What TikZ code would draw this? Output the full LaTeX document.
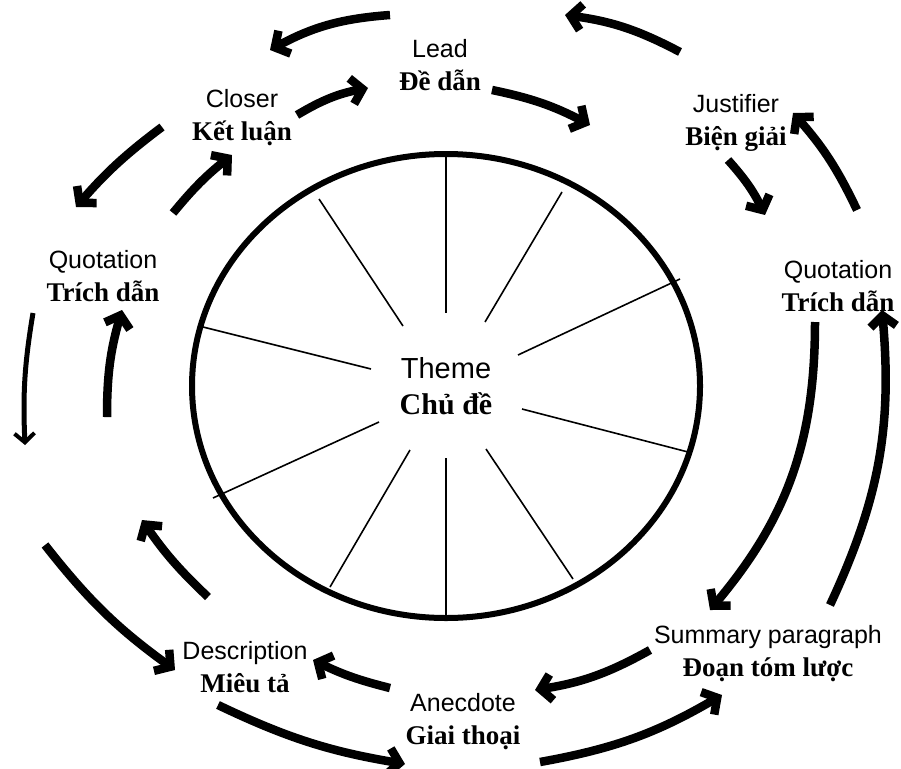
\documentclass[tikz,border=0pt]{standalone}
\usepackage{fontspec}
\setmainfont{Liberation Serif}
\newfontfamily\engfont{Liberation Sans}
\usetikzlibrary{arrows.meta}
\begin{document}
\begin{tikzpicture}[x=1pt,y=-1pt,
  flow/.style={line width=8.5pt,-{Straight Barb[length=11pt,width=26pt]}},
  thinflow/.style={line width=5pt,-{Straight Barb[length=9pt,width=20pt,line width=4pt]}},
  spoke/.style={line width=1.6pt},
  label/.style={align=center,font=\fontsize{27}{33}\selectfont},
]
\useasboundingbox (0,0) rectangle (901,768);

% central wheel
\draw[line width=6pt] (446,386) ellipse [x radius=254, y radius=232];
\draw[spoke] (446,155) -- (446,313);
\draw[spoke] (562,192) -- (485,322);
\draw[spoke] (680,279) -- (518,355);
\draw[spoke] (688,452) -- (522,409);
\draw[spoke] (573,579) -- (486,449);
\draw[spoke] (446,617) -- (446,458);
\draw[spoke] (330,587) -- (410,450);
\draw[spoke] (213,498) -- (379,422);
\draw[spoke] (203,327) -- (371,369);
\draw[spoke] (319,199) -- (403,326);

% labels: English in sans, Vietnamese in bold serif
\node[align=center,font=\fontsize{30}{36}\selectfont] (theme) at (446,386)
  {{\engfont\fontsize{29}{36}\selectfont Theme}\\\textbf{Chủ đề}};
\node[label] (lead) at (440,65) {{\engfont\fontsize{25}{33}\selectfont Lead}\\\textbf{Đề dẫn}};
\node[label] (closer) at (242,118) {{\engfont\fontsize{25}{33}\selectfont Closer}\\\textbf{Kết luận}};
\node[label] (justifier) at (736,123) {{\engfont\fontsize{25}{33}\selectfont Justifier}\\\textbf{Biện giải}};
\node[label] (quoteL) at (103,276) {{\engfont\fontsize{25}{33}\selectfont Quotation}\\\textbf{Trích dẫn}};
\node[label] (quoteR) at (838,286) {{\engfont\fontsize{25}{33}\selectfont Quotation}\\\textbf{Trích dẫn}};
\node[label] (desc) at (245,667) {{\engfont\fontsize{25}{33}\selectfont Description}\\\textbf{Miêu tả}};
\node[label] (anec) at (463,722) {{\engfont\fontsize{25}{33}\selectfont Anecdote}\\\textbf{Giai thoại}};
\node[label] (summ) at (768,654) {{\engfont\fontsize{25}{33}\selectfont Summary paragraph}\\\textbf{Đoạn tóm lược}};

% arrow end points, outer ring
\coordinate (a1s) at (390,15);  \coordinate (a1e) at (270,50);
\coordinate (a2s) at (162,127); \coordinate (a2e) at (76,207);
\coordinate (a3s) at (33,313);  \coordinate (a3e) at (25,445);
\coordinate (a4s) at (45,545);  \coordinate (a4e) at (175,670);
\coordinate (a5s) at (218,705); \coordinate (a5e) at (405,764);
\coordinate (a6s) at (540,762); \coordinate (a6e) at (722,695);
\coordinate (a7s) at (830,605); \coordinate (a7e) at (882,310);
\coordinate (a8s) at (857,210); \coordinate (a8e) at (793,113);
\coordinate (a9s) at (680,52);  \coordinate (a9e) at (565,15);
% arrow end points, inner ring
\coordinate (b1s) at (297,115); \coordinate (b1e) at (368,88);
\coordinate (b2s) at (492,90);  \coordinate (b2e) at (590,125);
\coordinate (b3s) at (728,160); \coordinate (b3e) at (765,215);
\coordinate (b4s) at (815,322); \coordinate (b4e) at (710,610);
\coordinate (b5s) at (650,650); \coordinate (b5e) at (535,690);
\coordinate (b6s) at (390,688); \coordinate (b6e) at (313,660);
\coordinate (b7s) at (208,597); \coordinate (b7e) at (142,520);
\coordinate (b8s) at (107,417); \coordinate (b8e) at (122,310);
\coordinate (b9s) at (173,213); \coordinate (b9e) at (232,155);

% outer ring, running anticlockwise
\draw[flow] (a1s) to[bend right=12] (a1e);
\draw[flow] (a2s) to[bend right=6] (a2e);
\draw[thinflow] (a3s) to[bend right=6] (a3e);
\draw[flow] (a4s) to[bend right=8] (a4e);
\draw[flow] (a5s) to[bend right=8] (a5e);
\draw[flow] (a6s) to[bend right=10] (a6e);
\draw[flow] (a7s) to[bend right=15] (a7e);
\draw[flow] (a8s) to[bend right=8] (a8e);
\draw[flow] (a9s) to[bend right=10] (a9e);

% inner ring, running clockwise
\draw[flow] (b1s) to[bend left=10] (b1e);
\draw[flow] (b2s) to[bend left=8] (b2e);
\draw[flow] (b3s) to[bend left=8] (b3e);
\draw[flow] (b4s) to[bend left=20] (b4e);
\draw[flow] (b5s) to[bend left=10] (b5e);
\draw[flow] (b6s) to[bend left=6] (b6e);
\draw[flow] (b7s) to[bend left=6] (b7e);
\draw[flow] (b8s) to[bend left=8] (b8e);
\draw[flow] (b9s) to[bend left=6] (b9e);
\end{tikzpicture}
\end{document}
